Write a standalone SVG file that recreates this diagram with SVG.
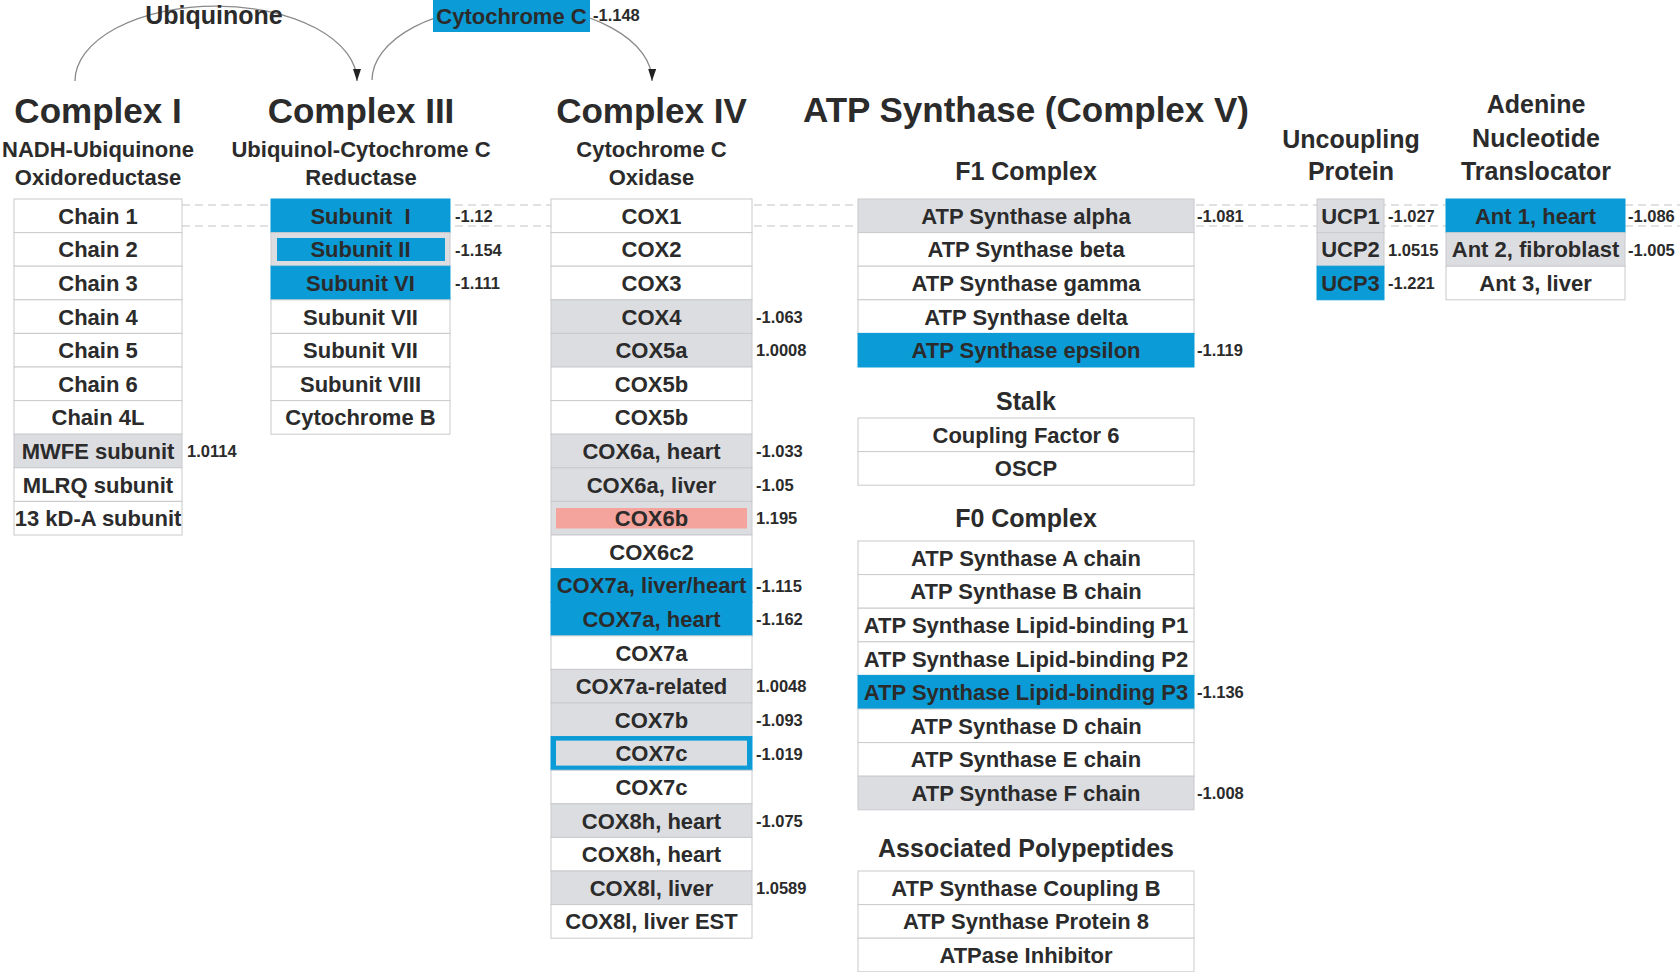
<svg xmlns="http://www.w3.org/2000/svg" width="1680" height="972" viewBox="0 0 1680 972">
  <style>
    text { font-family: "Liberation Sans", Arial, sans-serif; font-weight: bold; fill: #2b2b2b; }
    .cell { fill: #ffffff; stroke: #c9cacd; stroke-width: 1; }
    .gray { fill: #dcdde1; stroke: #c9cacd; stroke-width: 1; }
    .blue { fill: #0b9bd7; stroke: #0b9bd7; stroke-width: 1; }
    .inblue { fill: #0b9bd7; }
    .ingray { fill: #dcdde1; }
    .inpink { fill: #f4a49c; }
    .t { font-size: 22px; text-anchor: middle; }
    .v { font-size: 16.5px; }
    .h1 { font-size: 35px; text-anchor: middle; }
    .h2 { font-size: 22px; text-anchor: middle; }
    .h3 { font-size: 25px; text-anchor: middle; }
    .dash { stroke: #c4c4c4; stroke-width: 1.2; stroke-dasharray: 8 5; fill: none; }
    .arc { stroke: #8a8a8a; stroke-width: 1.3; fill: none; marker-end: url(#arrow); }
  </style>
  <defs>
    <marker id="arrow" viewBox="0 0 12 8" refX="12" refY="4" markerWidth="12" markerHeight="8" orient="auto" markerUnits="userSpaceOnUse">
      <path d="M0,0 L12,4 L0,8 z" fill="#222"/>
    </marker>
  </defs>

  <rect x="0" y="0" width="1680" height="972" fill="#ffffff"/>

  <!-- connectors: electron carrier arcs and the row guide lines -->
  <g id="connectors">
    <line class="dash" x1="182" y1="205" x2="1680" y2="205"/>
    <line class="dash" x1="182" y1="226" x2="1680" y2="226"/>
    <path class="arc" d="M75,81 A141,75 0 0 1 357,81"/>
    <path class="arc" d="M372,80 A140,75 0 0 1 652,81"/>
  </g>

  <!-- carriers -->
  <g id="ubiquinone">
    <text class="h3" x="214" y="24">Ubiquinone</text>
  </g>
  <g id="cytochrome-c">
    <rect x="433" y="0" width="157" height="32" fill="#0b9bd7"/>
    <text x="511.5" y="24" style="font-size:22px;text-anchor:middle">Cytochrome C</text>
    <text class="v" x="593" y="21">-1.148</text>
  </g>

  <!-- Complex I -->
  <g id="complex-1">
    <text class="h1" x="98" y="123">Complex I</text>
    <text class="h2" x="98" y="157">NADH-Ubiquinone</text>
    <text class="h2" x="98" y="185">Oxidoreductase</text>
    <g id="c1-chain1"><rect class="cell" x="14" y="199" width="168" height="33.6"/><text class="t" x="98" y="223.8">Chain 1</text></g>
    <g id="c1-chain2"><rect class="cell" x="14" y="232.6" width="168" height="33.6"/><text class="t" x="98" y="257.4">Chain 2</text></g>
    <g id="c1-chain3"><rect class="cell" x="14" y="266.2" width="168" height="33.6"/><text class="t" x="98" y="291">Chain 3</text></g>
    <g id="c1-chain4"><rect class="cell" x="14" y="299.8" width="168" height="33.6"/><text class="t" x="98" y="324.6">Chain 4</text></g>
    <g id="c1-chain5"><rect class="cell" x="14" y="333.4" width="168" height="33.6"/><text class="t" x="98" y="358.2">Chain 5</text></g>
    <g id="c1-chain6"><rect class="cell" x="14" y="367" width="168" height="33.6"/><text class="t" x="98" y="391.8">Chain 6</text></g>
    <g id="c1-chain4l"><rect class="cell" x="14" y="400.6" width="168" height="33.6"/><text class="t" x="98" y="425.4">Chain 4L</text></g>
    <g id="c1-mwfe"><rect class="gray" x="14" y="434.2" width="168" height="33.6"/><text class="t" x="98" y="459">MWFE subunit</text><text class="v" x="187" y="457">1.0114</text></g>
    <g id="c1-mlrq"><rect class="cell" x="14" y="467.8" width="168" height="33.6"/><text class="t" x="98" y="492.6">MLRQ subunit</text></g>
    <g id="c1-13kda"><rect class="cell" x="14" y="501.4" width="168" height="33.6"/><text class="t" x="98" y="526.2">13 kD-A subunit</text></g>
  </g>

  <!-- Complex III -->
  <g id="complex-3">
    <text class="h1" x="361" y="123">Complex III</text>
    <text class="h2" x="361" y="157">Ubiquinol-Cytochrome C</text>
    <text class="h2" x="361" y="185">Reductase</text>
    <g id="c3-sub1"><rect class="blue" x="271" y="199" width="179" height="33.6"/><text class="t" x="360.5" y="223.8" xml:space="preserve">Subunit  I</text><text class="v" x="455" y="222">-1.12</text></g>
    <g id="c3-sub2"><rect class="gray" x="271" y="232.6" width="179" height="33.6"/><rect class="inblue" x="277" y="238" width="168" height="23"/><text class="t" x="360.5" y="257.4">Subunit II</text><text class="v" x="455" y="255.6">-1.154</text></g>
    <g id="c3-sub6"><rect class="blue" x="271" y="266.2" width="179" height="33.6"/><text class="t" x="360.5" y="291">Subunit VI</text><text class="v" x="455" y="289.2">-1.111</text></g>
    <g id="c3-sub7a"><rect class="cell" x="271" y="299.8" width="179" height="33.6"/><text class="t" x="360.5" y="324.6">Subunit VII</text></g>
    <g id="c3-sub7b"><rect class="cell" x="271" y="333.4" width="179" height="33.6"/><text class="t" x="360.5" y="358.2">Subunit VII</text></g>
    <g id="c3-sub8"><rect class="cell" x="271" y="367" width="179" height="33.6"/><text class="t" x="360.5" y="391.8">Subunit VIII</text></g>
    <g id="c3-cytb"><rect class="cell" x="271" y="400.6" width="179" height="33.6"/><text class="t" x="360.5" y="425.4">Cytochrome B</text></g>
  </g>

  <!-- Complex IV -->
  <g id="complex-4">
    <text class="h1" x="651.5" y="123">Complex IV</text>
    <text class="h2" x="651.5" y="157">Cytochrome C</text>
    <text class="h2" x="651.5" y="185">Oxidase</text>
    <g id="c4-cox1"><rect class="cell" x="551" y="199" width="201" height="33.6"/><text class="t" x="651.5" y="223.8">COX1</text></g>
    <g id="c4-cox2"><rect class="cell" x="551" y="232.6" width="201" height="33.6"/><text class="t" x="651.5" y="257.4">COX2</text></g>
    <g id="c4-cox3"><rect class="cell" x="551" y="266.2" width="201" height="33.6"/><text class="t" x="651.5" y="291">COX3</text></g>
    <g id="c4-cox4"><rect class="gray" x="551" y="299.8" width="201" height="33.6"/><text class="t" x="651.5" y="324.6">COX4</text><text class="v" x="756" y="322.8">-1.063</text></g>
    <g id="c4-cox5a"><rect class="gray" x="551" y="333.4" width="201" height="33.6"/><text class="t" x="651.5" y="358.2">COX5a</text><text class="v" x="756" y="356.4">1.0008</text></g>
    <g id="c4-cox5b-1"><rect class="cell" x="551" y="367" width="201" height="33.6"/><text class="t" x="651.5" y="391.8">COX5b</text></g>
    <g id="c4-cox5b-2"><rect class="cell" x="551" y="400.6" width="201" height="33.6"/><text class="t" x="651.5" y="425.4">COX5b</text></g>
    <g id="c4-cox6a-heart"><rect class="gray" x="551" y="434.2" width="201" height="33.6"/><text class="t" x="651.5" y="459">COX6a, heart</text><text class="v" x="756" y="457.2">-1.033</text></g>
    <g id="c4-cox6a-liver"><rect class="gray" x="551" y="467.8" width="201" height="33.6"/><text class="t" x="651.5" y="492.6">COX6a, liver</text><text class="v" x="756" y="490.8">-1.05</text></g>
    <g id="c4-cox6b"><rect class="gray" x="551" y="501.4" width="201" height="33.6"/><rect class="inpink" x="556" y="508" width="191" height="20.5"/><text class="t" x="651.5" y="526.2">COX6b</text><text class="v" x="756" y="524.4">1.195</text></g>
    <g id="c4-cox6c2"><rect class="cell" x="551" y="535" width="201" height="33.6"/><text class="t" x="651.5" y="559.8">COX6c2</text></g>
    <g id="c4-cox7a-lh"><rect class="blue" x="551" y="568.6" width="201" height="33.6"/><text class="t" x="651.5" y="593.4">COX7a, liver/heart</text><text class="v" x="756" y="591.6">-1.115</text></g>
    <g id="c4-cox7a-heart"><rect class="blue" x="551" y="602.2" width="201" height="33.6"/><text class="t" x="651.5" y="627">COX7a, heart</text><text class="v" x="756" y="625.2">-1.162</text></g>
    <g id="c4-cox7a"><rect class="cell" x="551" y="635.8" width="201" height="33.6"/><text class="t" x="651.5" y="660.6">COX7a</text></g>
    <g id="c4-cox7a-rel"><rect class="gray" x="551" y="669.4" width="201" height="33.6"/><text class="t" x="651.5" y="694.2">COX7a-related</text><text class="v" x="756" y="692.4">1.0048</text></g>
    <g id="c4-cox7b"><rect class="gray" x="551" y="703" width="201" height="33.6"/><text class="t" x="651.5" y="727.8">COX7b</text><text class="v" x="756" y="726">-1.093</text></g>
    <g id="c4-cox7c-1"><rect class="blue" x="551" y="736.6" width="201" height="33.6"/><rect class="ingray" x="556" y="740.6" width="191" height="25"/><text class="t" x="651.5" y="761.4">COX7c</text><text class="v" x="756" y="759.6">-1.019</text></g>
    <g id="c4-cox7c-2"><rect class="cell" x="551" y="770.2" width="201" height="33.6"/><text class="t" x="651.5" y="795">COX7c</text></g>
    <g id="c4-cox8h-1"><rect class="gray" x="551" y="803.8" width="201" height="33.6"/><text class="t" x="651.5" y="828.6">COX8h, heart</text><text class="v" x="756" y="826.8">-1.075</text></g>
    <g id="c4-cox8h-2"><rect class="cell" x="551" y="837.4" width="201" height="33.6"/><text class="t" x="651.5" y="862.2">COX8h, heart</text></g>
    <g id="c4-cox8l-liver"><rect class="gray" x="551" y="871" width="201" height="33.6"/><text class="t" x="651.5" y="895.8">COX8l, liver</text><text class="v" x="756" y="894">1.0589</text></g>
    <g id="c4-cox8l-est"><rect class="cell" x="551" y="904.6" width="201" height="33.6"/><text class="t" x="651.5" y="929.4">COX8l, liver EST</text></g>
  </g>

  <!-- ATP Synthase (Complex V) -->
  <g id="complex-5">
    <text class="h1" x="1026" y="122">ATP Synthase (Complex V)</text>

    <g id="f1-complex">
      <text class="h3" x="1026" y="180">F1 Complex</text>
      <g id="f1-alpha"><rect class="gray" x="858" y="199" width="336" height="33.6"/><text class="t" x="1026" y="223.8">ATP Synthase alpha</text><text class="v" x="1197" y="222">-1.081</text></g>
      <g id="f1-beta"><rect class="cell" x="858" y="232.6" width="336" height="33.6"/><text class="t" x="1026" y="257.4">ATP Synthase beta</text></g>
      <g id="f1-gamma"><rect class="cell" x="858" y="266.2" width="336" height="33.6"/><text class="t" x="1026" y="291">ATP Synthase gamma</text></g>
      <g id="f1-delta"><rect class="cell" x="858" y="299.8" width="336" height="33.6"/><text class="t" x="1026" y="324.6">ATP Synthase delta</text></g>
      <g id="f1-epsilon"><rect class="blue" x="858" y="333.4" width="336" height="33.6"/><text class="t" x="1026" y="358.2">ATP Synthase epsilon</text><text class="v" x="1197" y="356.4">-1.119</text></g>
    </g>

    <g id="stalk">
      <text class="h3" x="1026" y="410">Stalk</text>
      <g id="stalk-cf6"><rect class="cell" x="858" y="418" width="336" height="33.6"/><text class="t" x="1026" y="442.8">Coupling Factor 6</text></g>
      <g id="stalk-oscp"><rect class="cell" x="858" y="451.6" width="336" height="33.6"/><text class="t" x="1026" y="476.4">OSCP</text></g>
    </g>

    <g id="f0-complex">
      <text class="h3" x="1026" y="527">F0 Complex</text>
      <g id="f0-a"><rect class="cell" x="858" y="541" width="336" height="33.6"/><text class="t" x="1026" y="565.8">ATP Synthase A chain</text></g>
      <g id="f0-b"><rect class="cell" x="858" y="574.6" width="336" height="33.6"/><text class="t" x="1026" y="599.4">ATP Synthase B chain</text></g>
      <g id="f0-p1"><rect class="cell" x="858" y="608.2" width="336" height="33.6"/><text class="t" x="1026" y="633">ATP Synthase Lipid-binding P1</text></g>
      <g id="f0-p2"><rect class="cell" x="858" y="641.8" width="336" height="33.6"/><text class="t" x="1026" y="666.6">ATP Synthase Lipid-binding P2</text></g>
      <g id="f0-p3"><rect class="blue" x="858" y="675.4" width="336" height="33.6"/><text class="t" x="1026" y="700.2">ATP Synthase Lipid-binding P3</text><text class="v" x="1197" y="698.4">-1.136</text></g>
      <g id="f0-d"><rect class="cell" x="858" y="709" width="336" height="33.6"/><text class="t" x="1026" y="733.8">ATP Synthase D chain</text></g>
      <g id="f0-e"><rect class="cell" x="858" y="742.6" width="336" height="33.6"/><text class="t" x="1026" y="767.4">ATP Synthase E chain</text></g>
      <g id="f0-f"><rect class="gray" x="858" y="776.2" width="336" height="33.6"/><text class="t" x="1026" y="801">ATP Synthase F chain</text><text class="v" x="1197" y="799.2">-1.008</text></g>
    </g>

    <g id="associated">
      <text class="h3" x="1026" y="857">Associated Polypeptides</text>
      <g id="as-coupling-b"><rect class="cell" x="858" y="871" width="336" height="33.6"/><text class="t" x="1026" y="895.8">ATP Synthase Coupling B</text></g>
      <g id="as-protein8"><rect class="cell" x="858" y="904.6" width="336" height="33.6"/><text class="t" x="1026" y="929.4">ATP Synthase Protein 8</text></g>
      <g id="as-inhibitor"><rect class="cell" x="858" y="938.2" width="336" height="33.6"/><text class="t" x="1026" y="963">ATPase Inhibitor</text></g>
    </g>
  </g>

  <!-- Uncoupling Protein -->
  <g id="uncoupling">
    <text class="h3" x="1351" y="148">Uncoupling</text>
    <text class="h3" x="1351" y="180">Protein</text>
    <g id="ucp1"><rect class="gray" x="1317" y="199" width="67" height="33.6"/><text class="t" x="1350.5" y="223.8">UCP1</text><text class="v" x="1388" y="222">-1.027</text></g>
    <g id="ucp2"><rect class="gray" x="1317" y="232.6" width="67" height="33.6"/><text class="t" x="1350.5" y="257.4">UCP2</text><text class="v" x="1388" y="255.6">1.0515</text></g>
    <g id="ucp3"><rect class="blue" x="1317" y="266.2" width="67" height="33.6"/><text class="t" x="1350.5" y="291">UCP3</text><text class="v" x="1388" y="289.2">-1.221</text></g>
  </g>

  <!-- Adenine Nucleotide Translocator -->
  <g id="ant">
    <text class="h3" x="1536" y="113">Adenine</text>
    <text class="h3" x="1536" y="147">Nucleotide</text>
    <text class="h3" x="1536" y="180">Translocator</text>
    <g id="ant1"><rect class="blue" x="1446" y="199" width="179" height="33.6"/><text class="t" x="1535.5" y="223.8">Ant 1, heart</text><text class="v" x="1628" y="222">-1.086</text></g>
    <g id="ant2"><rect class="gray" x="1446" y="232.6" width="179" height="33.6"/><text class="t" x="1535.5" y="257.4">Ant 2, fibroblast</text><text class="v" x="1628" y="255.6">-1.005</text></g>
    <g id="ant3"><rect class="cell" x="1446" y="266.2" width="179" height="33.6"/><text class="t" x="1535.5" y="291">Ant 3, liver</text></g>
  </g>
</svg>
